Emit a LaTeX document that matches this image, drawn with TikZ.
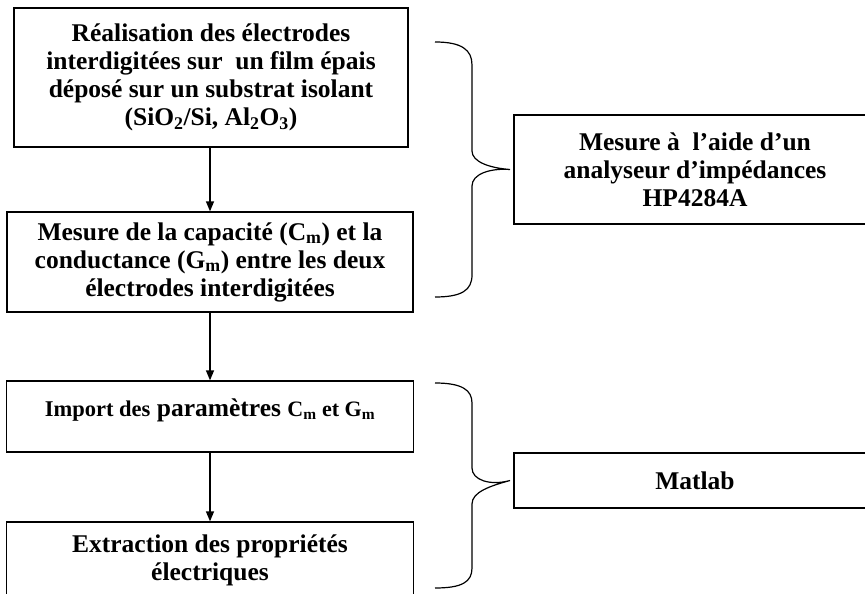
\documentclass[tikz,border=0pt]{standalone}
\usepackage{fontspec}
\setmainfont{Liberation Serif}
\usetikzlibrary{arrows.meta}
\begin{document}
\begin{tikzpicture}[x=1pt,y=-1pt,
  box/.style={draw, line width=1.3pt, inner sep=0pt, align=center,
    font=\bfseries\fontsize{25.5}{28}\selectfont},
  arr/.style={line width=1.3pt, -{Triangle[length=10pt,width=8pt]}},
  brace/.style={line width=1.2pt}]
\useasboundingbox (0,0) rectangle (865,594);
\node[box, minimum width=394pt, minimum height=139pt] (b1) at (211,77.5)
  {Réalisation des électrodes\\interdigitées sur\ \ un film épais\\déposé sur un substrat isolant\\(SiO\textsubscript{2}/Si, Al\textsubscript{2}O\textsubscript{3})};
\node[box, minimum width=406pt, minimum height=100pt] (b2) at (210,262)
  {Mesure de la capacité (C\textsubscript{m}) et la\\conductance (G\textsubscript{m}) entre les deux\\électrodes interdigitées};
\node[box, minimum width=407pt, minimum height=71pt] (b3) at (210,416.5)
  {\raisebox{0pt}[\height][\dimexpr\depth+12pt]{{\fontsize{22.5}{26}\selectfont Import des} paramètres\ {\fontsize{22}{26}\selectfont C\textsubscript{m} et G\textsubscript{m}}}};
\node[box, minimum width=407pt, minimum height=76pt] (b4) at (210,560)
  {Extraction des propriétés\\électriques};
\node[box, minimum width=362pt, minimum height=109pt] (b5) at (695,169.5)
  {Mesure à\ \ l’aide d’un\\analyseur d’impédances\\HP4284A};
\node[box, minimum width=362pt, minimum height=55pt] (b6) at (695,480.5)
  {Matlab};
\draw[arr] (b1.south -| b2.south) -- (b2.north);
\draw[arr] (b2.south) -- (b3.north);
\draw[arr] (b3.south) -- (b4.north);
\draw[brace] (435,42) .. controls (462,42) and (472,50) .. (472,65) -- (472,151)
  .. controls (472,162) and (490,168) .. (b5.west -| 510,0)
  .. controls (490,168) and (472,174) .. (472,186) -- (472,275)
  .. controls (472,290) and (462,297) .. (435,297);
\draw[brace] (435,383) .. controls (462,383) and (472,390) .. (472,403) -- (472,468)
  .. controls (472,480) and (490,486) .. (b6.west -| 510,0)
  .. controls (490,486) and (472,492) .. (472,504) -- (472,568)
  .. controls (472,582) and (462,588) .. (435,588);
\end{tikzpicture}
\end{document}
